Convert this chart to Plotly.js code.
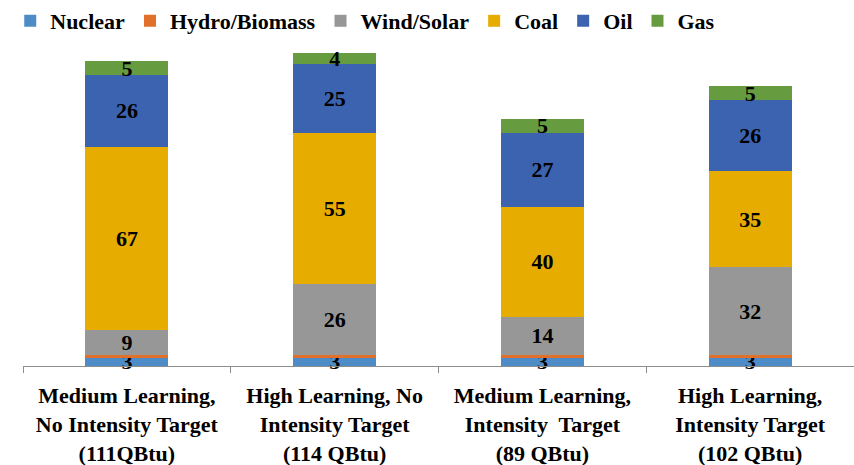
<!DOCTYPE html>
<html>
<head>
<meta charset="utf-8">
<script src="https://cdn.plot.ly/plotly-3.0.1.min.js"></script>
</head>
<body style="margin:0;background:#ffffff">
<div id="chart" style="width:854px;height:465px"></div>
<script>
// Primary energy mix by scenario (QBtu)
const scenarios = [
  "Medium Learning,<br>No Intensity Target<br>(111QBtu)",
  "High Learning, No<br>Intensity Target<br>(114 QBtu)",
  "Medium Learning,<br>Intensity  Target<br>(89 QBtu)",
  "High Learning,<br>Intensity Target<br>(102 QBtu)"
];
const nuclear    = [3, 3, 3, 3];
const hydroBio   = [1, 1, 1, 1];
const windSolar  = [9, 26, 14, 32];
const coal       = [67, 55, 40, 35];
const oil        = [26, 25, 27, 26];
const gas        = [5, 4, 5, 5];

const seriesNames  = ["Nuclear", "Hydro/Biomass", "Wind/Solar", "Coal", "Oil", "Gas"];
const seriesValues = [nuclear, hydroBio, windSolar, coal, oil, gas];
const seriesColors = ["#4E8CC8", "#E0702A", "#979797", "#E6AC00", "#3B63B0", "#679B3F"];
const showLabels   = [true, false, true, true, true, true];

const serifFamily = "'Liberation Serif', serif";

const traces = seriesNames.map((name, i) => ({
  type: "bar",
  name: "<b>" + name + "</b>",
  x: scenarios.map(s => "<b>" + s.split("<br>").join("</b><br><b>") + "</b>"),
  y: seriesValues[i],
  marker: { color: seriesColors[i], line: { width: 0 } },
  texttemplate: showLabels[i] ? "<b>%{y}</b>" : "",
  textposition: showLabels[i] ? "inside" : "none",
  insidetextanchor: "middle",
  textangle: 0,
  cliponaxis: false,
  insidetextfont: { family: serifFamily, size: 22, color: "#000000" },
  hoverinfo: "y"
}));

const layout = {
  width: 854,
  height: 465,
  barmode: "stack",
  bargap: 0.6,
  paper_bgcolor: "#ffffff",
  plot_bgcolor: "#ffffff",
  font: { family: serifFamily, color: "#000000" },
  margin: { l: 23, r: 0, t: 40, b: 99 },
  uniformtext: { minsize: 22, mode: "show" },
  showlegend: true,
  legend: {
    orientation: "h",
    xref: "container",
    yref: "container",
    x: 0.012,
    y: 1.0,
    xanchor: "left",
    yanchor: "top",
    traceorder: "normal",
    font: { family: serifFamily, size: 22, color: "#000000" }
  },
  xaxis: {
    type: "category",
    showline: true,
    linecolor: "#8C8C8C",
    linewidth: 1,
    ticks: "outside",
    tickson: "boundaries",
    ticklen: 6,
    tickcolor: "#8C8C8C",
    ticklabelstandoff: 10,
    showgrid: false,
    zeroline: false,
    tickfont: { family: serifFamily, size: 22, color: "#000000" }
  },
  yaxis: {
    range: [0, 118.1],
    visible: false,
    showgrid: false,
    zeroline: false
  }
};

Plotly.newPlot("chart", traces, layout, { displayModeBar: false });
</script>
</body>
</html>
